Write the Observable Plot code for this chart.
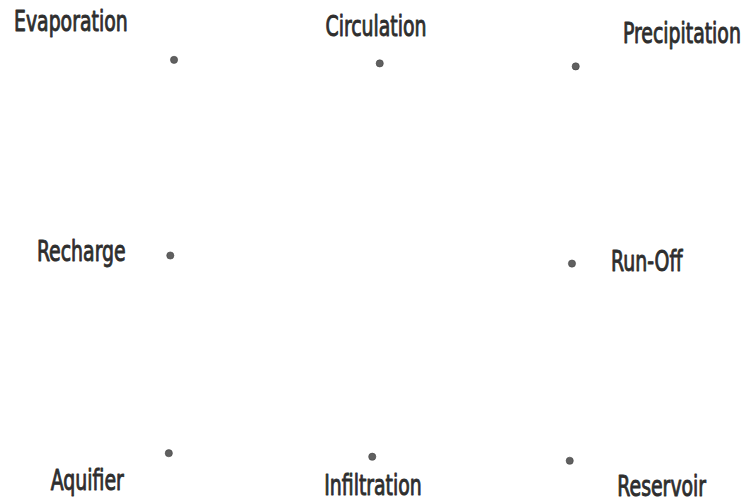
<!DOCTYPE html>
<html>
<head>
<meta charset="utf-8">
<script src="https://cdn.jsdelivr.net/npm/d3@7"></script>
<script src="https://cdn.jsdelivr.net/npm/@observablehq/plot@0.6"></script>
<style>
  html, body { margin: 0; padding: 0; background: #ffffff; }
  #chart { width: 748px; height: 503px; overflow: hidden; }
</style>
</head>
<body>
<div id="chart"></div>
<script>
// Stages of the water cycle
const stages = ["Evaporation", "Circulation", "Precipitation", "Recharge", "Run-Off", "Aquifier", "Infiltration", "Reservoir"];
// Point positions (abstract 0–100 units)
const pointX = [23.2, 50.7, 76.9, 22.7, 76.4, 22.5, 49.7, 76.1];
const pointY = [88.2, 87.5, 86.9, 49.3, 47.7, 10.0, 9.3, 8.5];
// Label anchor positions (abstract 0–100 units)
const labelX = [9.4, 50.2, 91.1, 10.8, 86.4, 11.6, 49.8, 88.4];
const labelY = [95.9, 94.9, 93.5, 50.2, 48.2, 4.7, 3.6, 3.4];

const points = stages.map((s, i) => ({stage: s, x: pointX[i], y: pointY[i]}));
const labels = stages.map((s, i) => ({stage: s, x: labelX[i], y: labelY[i]}));

const chart = Plot.plot({
  width: 748,
  height: 503,
  margin: 0,
  x: {domain: [0, 100], axis: null},
  y: {domain: [0, 100], axis: null},
  style: {background: "#ffffff"},
  marks: [
    Plot.dot(points, {x: "x", y: "y", r: 3.6, fill: "#606060", stroke: "#444", strokeWidth: 0.6}),
    Plot.text(labels, {
      x: "x", y: "y", text: "stage",
      fontSize: 28,
      fontFamily: "'DejaVu Sans Condensed', 'DejaVu Sans', sans-serif",
      fill: "#2e2e2e",
      stroke: "#2e2e2e",
      strokeWidth: 0.9,
      textAnchor: "middle",
      lineAnchor: "middle",
      dy: 1
    })
  ]
});
document.getElementById("chart").appendChild(chart);
// Condense labels horizontally to mimic the narrow typeface of the original
d3.select(chart).selectAll("text").each(function() {
  const t = this.getAttribute("transform") || "";
  this.setAttribute("transform", t + " scale(0.75,1)");
});
</script>
</body>
</html>
